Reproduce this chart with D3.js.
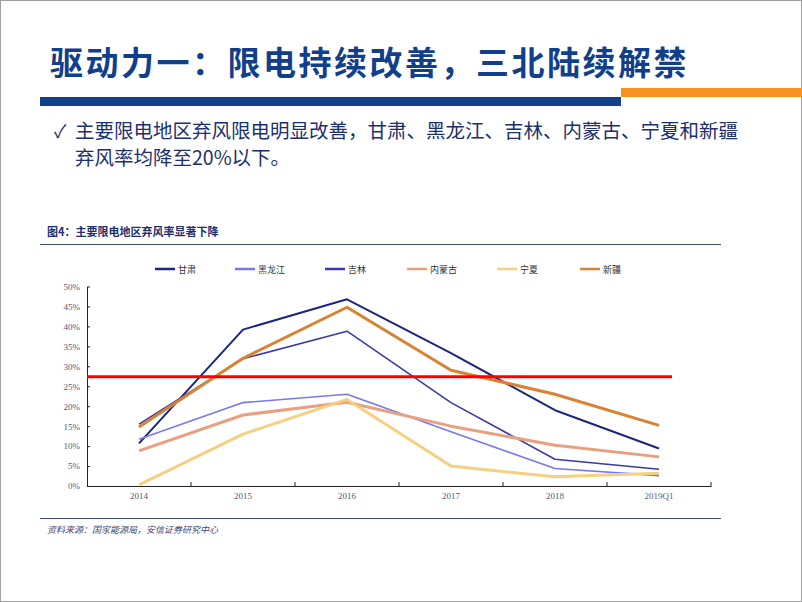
<!DOCTYPE html>
<html><head><meta charset="utf-8">
<script src="https://cdn.jsdelivr.net/npm/d3@7"></script>
<style>body{margin:0;background:#fff}svg{display:block}</style>
</head><body>
<script>
const categories = ["2014","2015","2016","2017","2018","2019Q1"];
const seriesNames = ["甘肃","黑龙江","吉林","内蒙古","宁夏","新疆"];
const gansu        = [10.7, 39.2, 46.8, 33.3, 19.0, 9.4];
const heilongjiang = [11.7, 20.9, 23.0, 13.6, 4.4, 2.6];
const jilin        = [15.5, 31.9, 38.8, 20.9, 6.7, 4.2];
const neimenggu    = [8.8, 17.8, 21.0, 15.0, 10.2, 7.3];
const ningxia      = [0.3, 13.0, 21.7, 5.0, 2.3, 3.2];
const xinjiang     = [14.8, 32.0, 44.8, 29.0, 23.0, 15.2];
const refLine = 27.4;
const yTicks = [0,5,10,15,20,25,30,35,40,45,50];

const colors = ["#1c2680","#7878ee","#3a3aa8","#e9a080","#f7cf80","#d98232"];
const widths = [2, 1.6, 1.6, 3, 3, 3];
const values = [gansu, heilongjiang, jilin, neimenggu, ningxia, xinjiang];

const W = 802, H = 602;
const svg = d3.select("body").append("svg").attr("width", W).attr("height", H);
svg.append("rect").attr("x",0.5).attr("y",0.5).attr("width",W-1).attr("height",H-1)
  .attr("fill","#fff").attr("stroke","#a0a0a0");

// header
svg.append("text").attr("x",50).attr("y",75)
  .attr("font-family","'Noto Sans CJK SC'").attr("font-weight","bold")
  .attr("font-size",33).attr("fill","#123f8c").attr("letter-spacing",2.5)
  .text("驱动力一：限电持续改善，三北陆续解禁");
svg.append("rect").attr("x",40).attr("y",97).attr("width",581).attr("height",9).attr("fill","#123f8c");
svg.append("rect").attr("x",621).attr("y",88).attr("width",181).attr("height",9).attr("fill","#f7921e");

const bodyFont = "'Noto Sans CJK SC'";
svg.append("text").attr("x",54).attr("y",138).attr("font-family",bodyFont)
  .attr("font-size",18).attr("fill","#1c2f6e").text("✓");
svg.append("text").attr("x",75).attr("y",138).attr("font-family",bodyFont)
  .attr("font-size",19.5).attr("fill","#1c2f6e")
  .text("主要限电地区弃风限电明显改善，甘肃、黑龙江、吉林、内蒙古、宁夏和新疆");
svg.append("text").attr("x",75).attr("y",165).attr("font-family",bodyFont)
  .attr("font-size",19.5).attr("fill","#1c2f6e")
  .text("弃风率均降至20%以下。");

// chart title and rules
svg.append("text").attr("x",47).attr("y",236).attr("font-family",bodyFont)
  .attr("font-weight","bold").attr("font-size",11).attr("fill","#1c2f6e")
  .text("图4：主要限电地区弃风率显著下降");
svg.append("line").attr("x1",40).attr("x2",721).attr("y1",244.5).attr("y2",244.5)
  .attr("stroke","#3c4a78").attr("stroke-width",1);
svg.append("line").attr("x1",40).attr("x2",721).attr("y1",518.5).attr("y2",518.5)
  .attr("stroke","#3c4a78").attr("stroke-width",1);
svg.append("text").attr("x",47).attr("y",533).attr("font-family",bodyFont)
  .attr("font-style","italic").attr("font-size",9).attr("fill","#3c4a78")
  .text("资料来源：国家能源局，安信证券研究中心");

// legend
const legX = [155,235,325,407,497,580];
const lg = svg.append("g");
seriesNames.forEach((n,i)=>{
  lg.append("line").attr("x1",legX[i]).attr("x2",legX[i]+20).attr("y1",269).attr("y2",269)
    .attr("stroke",colors[i]).attr("stroke-width",2.5);
  lg.append("text").attr("x",legX[i]+23).attr("y",272.5).attr("font-family",bodyFont)
    .attr("font-size",9).attr("fill","#333").text(n);
});

// scales
const x = d3.scaleBand().domain(categories).range([87,711]);
const y = d3.scaleLinear().domain([0,50]).range([486,286.5]);
const cx = c => x(c) + x.bandwidth()/2;

// axes
const axisFont = "'Liberation Serif'";
const ya = svg.append("g").attr("transform","translate(87,0)")
  .call(d3.axisLeft(y).tickValues(yTicks).tickFormat(d=>d+"%").tickSizeInner(-3).tickSizeOuter(0).tickPadding(7));
ya.select(".domain").attr("stroke","#222");
ya.selectAll(".tick line").attr("stroke","#222");
ya.selectAll("text").attr("font-family",axisFont).attr("font-size",9).attr("fill","#555a78");

const xa = svg.append("g").attr("transform","translate(0,486)")
  .call(d3.axisBottom(x).tickSize(0).tickPadding(7));
xa.select(".domain").attr("stroke","#222");
xa.selectAll("text").attr("font-family",axisFont).attr("font-size",9).attr("fill","#555a78");
const bounds = categories.map(c=>x(c)).concat([x.range()[1]]);
xa.selectAll(".bt").data(bounds.slice(1)).enter().append("line")
  .attr("x1",d=>d).attr("x2",d=>d).attr("y1",0).attr("y2",-4).attr("stroke","#222");

// lines
const line = d3.line().x((d,i)=>cx(categories[i])).y(d=>y(d));
const drawOrder = [0,1,2,3,4,5];
drawOrder.forEach(i=>{
  svg.append("path").datum(values[i]).attr("d",line).attr("fill","none")
    .attr("stroke",colors[i]).attr("stroke-width",widths[i]).attr("stroke-linejoin","round");
});

// reference line
svg.append("line").attr("x1",87).attr("x2",672).attr("y1",y(refLine)).attr("y2",y(refLine))
  .attr("stroke","#ff0000").attr("stroke-width",3);
</script>
</body></html>
